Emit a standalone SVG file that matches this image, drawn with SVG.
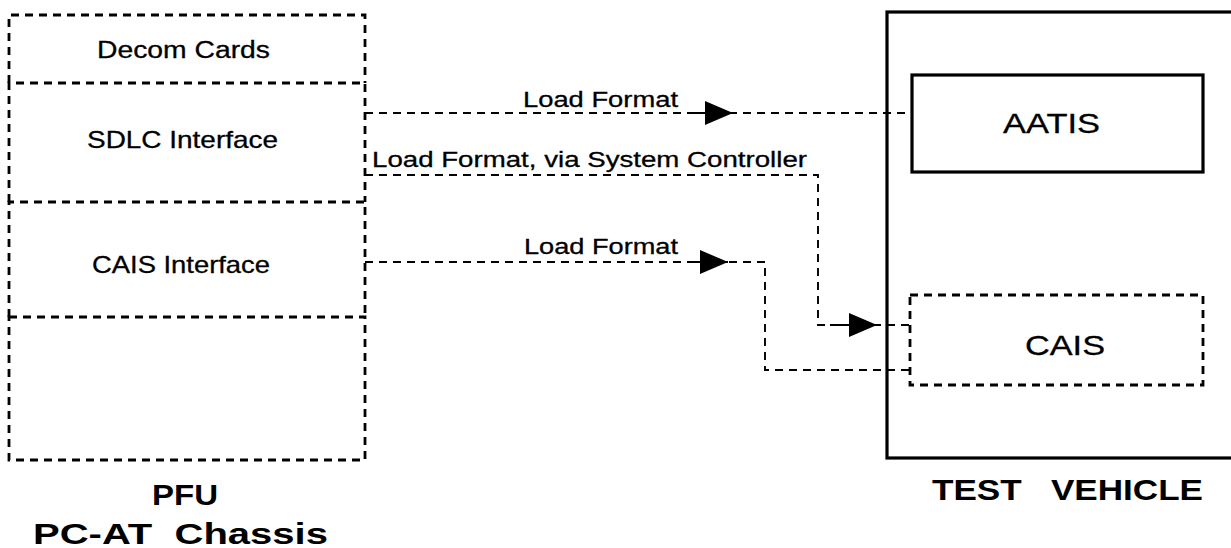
<svg xmlns="http://www.w3.org/2000/svg" width="1231" height="548" viewBox="0 0 1231 548">
<style>
.bg{fill:#fff}
.dbox{fill:none;stroke:#000;stroke-width:2.8;stroke-dasharray:8 6}
.sbox{fill:none;stroke:#000;stroke-width:3.2}
.conn{fill:none;stroke:#000;stroke-width:1.9;stroke-dasharray:8 6}
.stub{fill:none;stroke:#000;stroke-width:2.2}
.t{font-family:"Liberation Sans",Arial,Helvetica,sans-serif;fill:#000;stroke:#000;stroke-width:0.3}
.b{font-family:"Liberation Sans",Arial,Helvetica,sans-serif;font-weight:bold;fill:#000;white-space:pre}
</style>
<defs>
<marker id="ah" viewBox="0 0 28 24" refX="28" refY="12" markerWidth="28" markerHeight="24" markerUnits="userSpaceOnUse" orient="auto">
<path d="M0 0 L28 12 L0 24 Z" fill="#000"/>
</marker>
</defs>
<rect class="bg" x="0" y="0" width="1231" height="548"/>

<g id="connectors">
<path class="conn" d="M365 113 H912"/>
<path class="stub" d="M690 113 H733" marker-end="url(#ah)"/>
<path class="conn" d="M365 175 H818 V325 H910"/>
<path class="stub" d="M830 325 H877" marker-end="url(#ah)"/>
<path class="conn" d="M365 262 H765 V370 H910"/>
<path class="stub" d="M690 262 H728" marker-end="url(#ah)"/>
<text class="t" x="523" y="107" font-size="22" textLength="155" lengthAdjust="spacingAndGlyphs">Load Format</text>
<text class="t" x="372" y="167" font-size="22" textLength="435" lengthAdjust="spacingAndGlyphs">Load Format, via System Controller</text>
<text class="t" x="524" y="254" font-size="22" textLength="154" lengthAdjust="spacingAndGlyphs">Load Format</text>
</g>

<g id="pfu">
<g id="decom-cards">
<path class="dbox" d="M9 83 V15 H365 V83"/>
<text class="t" x="97" y="58" font-size="23" textLength="173" lengthAdjust="spacingAndGlyphs">Decom Cards</text>
</g>
<g id="sdlc-interface">
<path class="dbox" d="M9 202 V83 H365 V202"/>
<text class="t" x="87" y="148" font-size="24" textLength="191" lengthAdjust="spacingAndGlyphs">SDLC Interface</text>
</g>
<g id="cais-interface">
<path class="dbox" d="M9 317 V202 H365 V317"/>
<text class="t" x="92" y="273" font-size="24" textLength="178" lengthAdjust="spacingAndGlyphs">CAIS Interface</text>
</g>
<g id="empty-slot">
<path class="dbox" d="M9 317 H365 V460 H9 Z"/>
</g>
<text class="b" x="152" y="505" font-size="29" textLength="66" lengthAdjust="spacingAndGlyphs">PFU</text>
<text class="b" x="33" y="544" font-size="29" textLength="295" lengthAdjust="spacingAndGlyphs" xml:space="preserve">PC-AT  Chassis</text>
</g>

<g id="test-vehicle">
<rect class="sbox" x="887" y="12" width="360" height="446"/>
<text class="b" x="932" y="500" font-size="30" textLength="271" lengthAdjust="spacingAndGlyphs" xml:space="preserve">TEST   VEHICLE</text>
</g>
<g id="aatis">
<rect class="sbox" x="912" y="75" width="291" height="97"/>
<text class="t" x="1003" y="133" font-size="28" textLength="97" lengthAdjust="spacingAndGlyphs">AATIS</text>
</g>
<g id="cais">
<rect class="dbox" x="910" y="295" width="293" height="90"/>
<text class="t" x="1025" y="355" font-size="28" textLength="80" lengthAdjust="spacingAndGlyphs">CAIS</text>
</g>
</svg>
